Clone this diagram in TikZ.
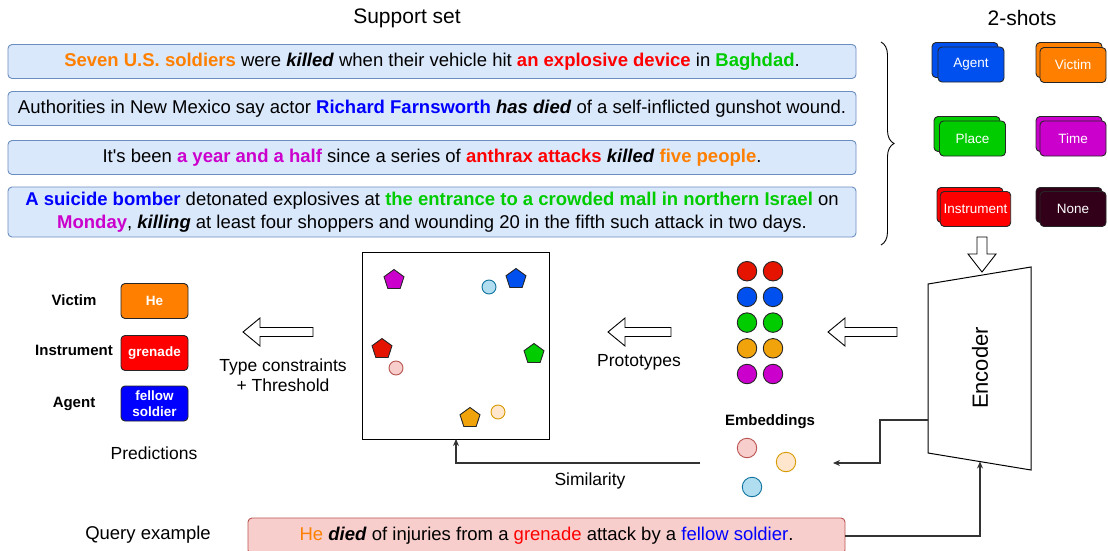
\documentclass[tikz,border=0pt]{standalone}
\usepackage{fontspec}
\setmainfont{Liberation Sans}
\usetikzlibrary{arrows.meta, positioning, shapes.geometric, decorations.pathreplacing}
\definecolor{sentfill}{HTML}{DAE8FC}
\definecolor{sentdraw}{HTML}{6C8EBF}
\definecolor{qfill}{HTML}{F8CECC}
\definecolor{qdraw}{HTML}{B85450}
\definecolor{argorange}{HTML}{FF8000}
\definecolor{argred}{HTML}{FF0000}
\definecolor{arggreen}{HTML}{00CC00}
\definecolor{argblue}{HTML}{0000FF}
\definecolor{argmagenta}{HTML}{CC00CC}
\definecolor{cblue}{HTML}{0050EF}
\definecolor{cred}{HTML}{E51400}
\definecolor{cyellow}{HTML}{F0A30A}
\definecolor{cnone}{HTML}{33001A}
\definecolor{eorange}{HTML}{FFE6CC}
\definecolor{eorangedraw}{HTML}{D79B00}
\definecolor{eblue}{HTML}{B1DDF0}
\definecolor{ebluedraw}{HTML}{10739E}
\newcommand{\argspan}[2]{\textcolor{#1}{\textbf{#2}}}
\newcommand{\trig}[1]{\textbf{\textit{#1}}}

\begin{document}
\begin{tikzpicture}[x=1pt, y=-1pt,
    sentbox/.style={rectangle, rounded corners=4pt, draw=sentdraw, fill=sentfill, line width=0.9pt,
                minimum width=848, minimum height=34, align=center, inner sep=2pt,
                font=\fontsize{18.5}{23}\selectfont},
    card/.style={rectangle, rounded corners=4pt, draw=black!85, line width=0.9pt,
                minimum width=66, minimum height=35, text=white, font=\fontsize{13.5}{16}\selectfont},
    predbox/.style={rectangle, rounded corners=4pt, draw=black!85, line width=0.9pt,
                minimum width=67, minimum height=35, text=white, align=center, inner sep=1pt,
                font=\fontsize{13.5}{16}\selectfont\bfseries},
    role/.style={font=\fontsize{15}{18}\selectfont\bfseries},
    lbl/.style={font=\fontsize{17.5}{20}\selectfont, align=center},
    title/.style={font=\fontsize{21}{25}\selectfont},
    proto/.style={circle, draw=black!85, line width=0.9pt, minimum size=19.5, inner sep=0pt},
    emb/.style={circle, line width=0.9pt, minimum size=19.5, inner sep=0pt},
    pent/.style={regular polygon, regular polygon sides=5, draw=black!85, line width=0.9pt,
                minimum size=21, inner sep=0pt},
    conn/.style={draw=black!80, line width=1.1pt, -{Stealth[length=7pt, width=6pt]}},
    fatarrow/.style={draw=black, fill=white, line width=0.9pt, line join=miter}]

    \useasboundingbox (0,0) rectangle (1108,551);

    % Titles
    \node[title] (suptitle) at (407,18) {Support set};
    \node[title] (shottitle) at (1022,18) {2-shots};

    % Support set
    \node[sentbox] (s1) at (432,61.5) {\argspan{argorange}{Seven U.S. soldiers} were \trig{killed} when their vehicle hit \argspan{argred}{an explosive device} in \argspan{arggreen}{Baghdad}.};
    \node[sentbox] (s2) at (432,108.5) {Authorities in New Mexico say actor \argspan{argblue}{Richard Farnsworth} \trig{has died} of a self-inflicted gunshot wound.};
    \node[sentbox] (s3) at (432,157.5) {It\textquotesingle s been \argspan{argmagenta}{a year and a half} since a series of \argspan{argred}{anthrax attacks} \trig{killed} \argspan{argorange}{five people}.};
    \node[sentbox, minimum height=50] (s4) at (432,212) {\argspan{argblue}{A suicide bomber} detonated explosives at \argspan{arggreen}{the entrance to a crowded mall in northern Israel} on\\
        \argspan{argmagenta}{Monday}, \trig{killing} at least four shoppers and wounding 20 in the fifth such attack in two days.};
    \draw[line width=0.9pt, decorate, decoration={brace, amplitude=13pt}] (881,42) -- (881,245);

    % 2-shot cards
    \node[card, fill=cblue] (agentB) at (965,60) {};
    \node[card, fill=cblue] (agent) at (971,64.5) {Agent};
    \node[card, fill=argorange] (victimB) at (1069,60) {};
    \node[card, fill=argorange] (victim) at (1073,65) {Victim};
    \node[card, fill=arggreen] (placeB) at (967,134) {};
    \node[card, fill=arggreen] (place) at (972.5,138.5) {Place};
    \node[card, fill=argmagenta] (timeB) at (1069,134) {};
    \node[card, fill=argmagenta] (time) at (1073,138.5) {Time};
    \node[card, fill=argred] (instrB) at (970,205) {};
    \node[card, fill=argred] (instr) at (975.5,209) {Instrument};
    \node[card, fill=cnone] (noneB) at (1069,205) {};
    \node[card, fill=cnone] (none) at (1073,209) {None};

    % Encoder
    \coordinate (encTL) at (928,284);
    \coordinate (encTR) at (1031,267);
    \coordinate (encBR) at (1031,470);
    \coordinate (encBL) at (928,453);
    \draw[line width=1pt] (encTL) -- (encTR) -- (encBR) -- (encBL) -- cycle;
    \node[rotate=90, font=\fontsize{22}{26}\selectfont] (enc) at (980,368) {Encoder};
    \coordinate (encOut) at (928,420);
    \coordinate (encIn) at (980,461.5);
    \draw[fatarrow] (982,272) -- ++(-14,-18) -- ++(9,0) -- ++(0,-17) -- ++(10,0) -- ++(0,17) -- ++(9,0) -- cycle;

    % Prototypes
    \foreach \c [count=\i] in {cred, cblue, arggreen, cyellow, argmagenta} {
        \node[proto, fill=\c] (pa\i) at (747,245.5+25.7*\i) {};
        \node[proto, fill=\c] (pb\i) at (773,245.5+25.7*\i) {};
    }
    \draw[fatarrow] (828,332) -- ++(17,-14) -- ++(0,9.5) -- ++(52,0) -- ++(0,9) -- ++(-52,0) -- ++(0,9.5) -- cycle;
    \draw[fatarrow] (608,332) -- ++(17,-14) -- ++(0,9.5) -- ++(46,0) -- ++(0,9) -- ++(-46,0) -- ++(0,9.5) -- cycle;
    \node[lbl] (protolbl) at (639,362) {Prototypes};

    % Embeddings
    \node[role] (emblbl) at (770,422) {Embeddings};
    \node[emb, draw=qdraw, fill=qfill] (e1) at (747,448) {};
    \node[emb, draw=eorangedraw, fill=eorange] (e2) at (786,462) {};
    \node[emb, draw=ebluedraw, fill=eblue] (e3) at (752,487) {};
    \coordinate (embIn) at (833,463);

    % Embedding space
    \node[draw, line width=1pt, minimum width=187, minimum height=187] (space) at (455.5,345.5) {};
    \node[pent, fill=argmagenta] (tpurple) at (394,280) {};
    \node[pent, fill=cblue] (tblue) at (516,279) {};
    \node[pent, fill=cred] (tred) at (382,349) {};
    \node[pent, fill=arggreen] (tgreen) at (534,354) {};
    \node[pent, fill=cyellow] (torange) at (470,418) {};
    \node[emb, minimum size=14, draw=ebluedraw, fill=eblue] (qblue) at (489,287) {};
    \node[emb, minimum size=14, draw=qdraw, fill=qfill] (qpink) at (396,368) {};
    \node[emb, minimum size=14, draw=eorangedraw, fill=eorange] (qorange) at (498,412) {};
    \coordinate (simStart) at (700,463);
    \coordinate (spaceIn) at (456,439);
    \node[lbl] (simlbl) at (590,481) {Similarity};

    % Predictions
    \draw[fatarrow] (243,332) -- ++(17,-14) -- ++(0,9.5) -- ++(53,0) -- ++(0,9) -- ++(-53,0) -- ++(0,9.5) -- cycle;
    \node[lbl] (typelbl) at (283,375) {Type constraints\\+ Threshold};
    \node[role] (rvictim) at (74,300) {Victim};
    \node[predbox, fill=argorange] (pvictim) at (154.5,301) {He};
    \node[role] (rinstr) at (74,350) {Instrument};
    \node[predbox, fill=argred] (pinstr) at (154.5,353) {grenade};
    \node[role] (ragent) at (74,404) {Agent};
    \node[predbox, fill=argblue] (pagent) at (154.5,403.5) {fellow\\soldier};
    \node[lbl] (predlbl) at (154,453) {Predictions};

    % Query
    \node[lbl, font=\fontsize{18.5}{22}\selectfont] (querylbl) at (148,535) {Query example};
    \node[sentbox, draw=qdraw, fill=qfill, minimum width=597, minimum height=36] (query) at (546.5,536)
        {\textcolor{argorange}{He} \trig{died} of injuries from a \textcolor{argred}{grenade} attack by a \textcolor{argblue}{fellow soldier}.};

    % Arrows
    \draw[conn] (encOut) -- ++(-48,0) |- (embIn);
    \draw[conn] (simStart) -| (spaceIn);
    \draw[conn] (query.east) -| (encIn);
\end{tikzpicture}
\end{document}
